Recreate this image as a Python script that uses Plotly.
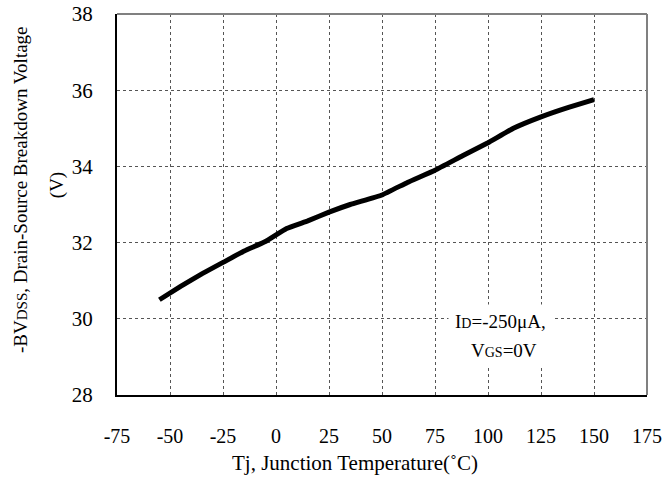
import plotly.graph_objects as go

temps = [-55, -45, -35, -25, -15, -5, 5, 15, 25, 35, 50, 62, 75, 88, 100, 112, 125, 138, 150]
bvdss = [30.5, 30.85, 31.18, 31.48, 31.78, 32.03, 32.37, 32.57, 32.8, 33.0, 33.25, 33.58, 33.9, 34.28, 34.62, 35.0, 35.3, 35.55, 35.75]

x_ticks = [-75, -50, -25, 0, 25, 50, 75, 100, 125, 150, 175]
y_ticks = [28, 30, 32, 34, 36, 38]

FONT = "Liberation Serif"

fig = go.Figure()
fig.add_trace(go.Scatter(x=temps, y=bvdss, mode="lines",
                         line=dict(color="black", width=5, shape="spline", smoothing=0.3),
                         showlegend=False, hoverinfo="skip"))

fig.update_layout(
    width=662, height=480,
    margin=dict(l=117, r=15, t=14, b=85),
    paper_bgcolor="white", plot_bgcolor="white",
    font=dict(family=FONT, size=21, color="black"),
    xaxis=dict(range=[-75, 175], tickvals=x_ticks, ticktext=[str(v) for v in x_ticks],
               showgrid=True, gridcolor="#555", griddash="dot", gridwidth=1,
               showline=True, linecolor="black", linewidth=2, zeroline=False,
               ticks="", ticklabelstandoff=22, ticklabeloverflow="allow", automargin=False,
               tickfont=dict(family=FONT, size=20)),
    yaxis=dict(range=[28, 38], tickvals=y_ticks, ticktext=[str(v) for v in y_ticks],
               showgrid=True, gridcolor="#555", griddash="dot", gridwidth=1,
               showline=True, linecolor="black", linewidth=2, zeroline=False, automargin=False,
               ticks="", ticklabelstandoff=18, tickfont=dict(family=FONT, size=21)),
)

# top/right border in gray
fig.add_shape(type="line", xref="paper", yref="paper", x0=0, x1=1, y0=1, y1=1,
              line=dict(color="#808080", width=2))
fig.add_shape(type="line", xref="paper", yref="paper", x0=1, x1=1, y0=0, y1=1,
              line=dict(color="#808080", width=2))

# x axis title
fig.add_annotation(xref="paper", yref="paper", x=0.449, y=-0.178, xanchor="center", yanchor="middle",
                   text="Tj, Junction Temperature(˚C)", showarrow=False,
                   font=dict(family=FONT, size=21))

# y axis title (two lines)
fig.add_annotation(xref="paper", yref="paper", x=-0.183, y=0.538, xanchor="center", yanchor="middle",
                   text="-BV<span style='font-size:15px'>DSS</span>, Drain-Source Breakdown Voltage",
                   textangle=-90, showarrow=False, font=dict(family=FONT, size=19))
fig.add_annotation(xref="paper", yref="paper", x=-0.113, y=0.551, xanchor="center", yanchor="middle",
                   text="(V)", textangle=-90, showarrow=False, font=dict(family=FONT, size=19))

# condition note
fig.add_annotation(xref="x", yref="y", x=106.1, y=29.94, xanchor="center", yanchor="middle",
                   text="I<span style='font-size:14px'>D</span>=-250μA,",
                   showarrow=False, bgcolor="white", borderpad=6,
                   font=dict(family=FONT, size=19))
fig.add_annotation(xref="x", yref="y", x=88.7, y=29.18, xanchor="left", yanchor="middle",
                   text="V<span style='font-size:14px'>GS</span>=0V",
                   showarrow=False, bgcolor="white", borderpad=6,
                   font=dict(family=FONT, size=19))

fig.write_html("out.html")
